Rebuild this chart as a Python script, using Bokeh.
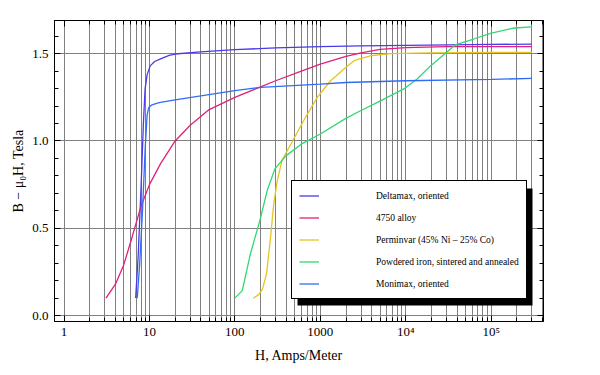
from bokeh.plotting import figure
from bokeh.models import (Range1d, FixedTicker, LogAxis, LinearAxis, Legend, LegendItem,
                          BoxAnnotation)
from bokeh.embed import file_html
from bokeh.resources import INLINE

# ---- data (H in A/m, B - mu0 H in Tesla) ----
deltamax_H = [6.9, 7.4, 8.0, 8.5, 8.9, 9.4, 10.2, 11.5, 13.5, 17, 20, 40, 100, 300, 1000, 3000, 10000, 1e5, 3e5]
deltamax_B = [0.10, 0.35, 0.75, 1.10, 1.30, 1.38, 1.43, 1.455, 1.47, 1.49, 1.498, 1.51, 1.523, 1.533, 1.54, 1.545, 1.548, 1.553, 1.555]

alloy4750_H = [3.1, 4.0, 5.0, 6.1, 7.9, 10, 13.5, 20, 30, 50, 100, 200, 300, 600, 1000, 2000, 3000, 5000, 10000, 3e4, 1e5, 3e5]
alloy4750_B = [0.10, 0.18, 0.29, 0.43, 0.62, 0.75, 0.87, 1.0, 1.09, 1.18, 1.25, 1.31, 1.345, 1.40, 1.44, 1.485, 1.505, 1.525, 1.535, 1.54, 1.54, 1.54]

perminvar_H = [165, 190, 210, 235, 262, 285, 313, 357, 450, 645, 920, 1320, 1970, 2480, 3850, 6600, 2e4, 1e5, 3e5]
perminvar_B = [0.10, 0.12, 0.15, 0.24, 0.45, 0.64, 0.77, 0.89, 0.98, 1.12, 1.25, 1.345, 1.42, 1.46, 1.488, 1.50, 1.505, 1.507, 1.508]

powdered_H = [100, 122, 152, 196, 239, 294, 398, 604, 1000, 1970, 2950, 5060, 9500, 13600, 19500, 28500, 37800, 62400, 98000, 186000, 300000]
powdered_B = [0.10, 0.143, 0.353, 0.544, 0.716, 0.84, 0.916, 0.983, 1.04, 1.128, 1.173, 1.23, 1.298, 1.355, 1.43, 1.498, 1.55, 1.584, 1.616, 1.647, 1.654]

monimax_H = [7.2, 7.7, 8.3, 8.9, 9.4, 9.8, 10.5, 13, 20, 40, 100, 200, 1000, 2000, 10000, 1e5, 3e5]
monimax_B = [0.10, 0.30, 0.60, 0.95, 1.15, 1.19, 1.205, 1.22, 1.235, 1.258, 1.288, 1.307, 1.326, 1.335, 1.345, 1.353, 1.358]

series_names = ["Deltamax, oriented", "4750 alloy", "Perminvar (45% Ni \u2013 25% Co)",
                "Powdered iron, sintered and annealed", "Monimax, oriented"]
series_colors = ["#4a3ae8", "#e0207a", "#e8c41c", "#2ed872", "#2f6cf5"]

x_major = [1, 10, 100, 1000, 10000, 100000]
x_labels = ["1", "10", "100", "1000", "10\u2074", "10\u2075"]
y_major = [0.0, 0.5, 1.0, 1.5]
y_labels = ["0.0", "0.5", "1.0", "1.5"]

x_minor = [m * d for d in [1, 10, 100, 1000, 10000, 100000] for m in range(1, 10)]
y_minor = [round(0.1 * i, 1) for i in range(0, 17)]

FONT = "Liberation Serif"

p = figure(frame_width=489, frame_height=301, x_axis_type="log",
           x_range=Range1d(0.774, 4.1e5), y_range=Range1d(-0.034, 1.69),
           output_backend="svg", toolbar_location=None,
           min_border_left=54, min_border_right=41, min_border_top=20, min_border_bottom=36)
p.background_fill_color = "white"
p.border_fill_color = "white"
p.outline_line_color = "black"
p.outline_line_width = 1

xt = FixedTicker(ticks=x_major, minor_ticks=x_minor)
yt = FixedTicker(ticks=y_major, minor_ticks=y_minor)

p.xaxis[0].ticker = xt
p.xaxis[0].major_label_overrides = {k: v for k, v in zip(x_major, x_labels)}
p.xaxis[0].axis_label = "H, Amps/Meter"
p.yaxis[0].ticker = yt
p.yaxis[0].major_label_overrides = {k: v for k, v in zip(y_major, y_labels)}
p.yaxis[0].axis_label = "B \u2212 \u03bc\u2080H, Tesla"


def style_axis(ax):
    ax.axis_line_color = "black"
    ax.major_tick_in = 6
    ax.major_tick_out = 0
    ax.minor_tick_in = 4
    ax.minor_tick_out = 0
    ax.major_tick_line_color = "black"
    ax.minor_tick_line_color = "black"
    ax.major_label_text_font = FONT
    ax.major_label_text_font_size = "13px"
    ax.major_label_text_color = "black"
    ax.axis_label_text_font = FONT
    ax.axis_label_text_font_size = "14px"
    ax.axis_label_text_font_style = "normal"
    ax.axis_label_text_color = "black"


style_axis(p.xaxis[0])
p.xaxis[0].major_label_standoff = 2
p.xaxis[0].axis_label_standoff = 6
style_axis(p.yaxis[0])
p.yaxis[0].major_label_standoff = 6
p.yaxis[0].axis_label_standoff = 3

top = LogAxis(ticker=xt)
style_axis(top)
top.major_label_text_font_size = "1px"
top.major_label_text_alpha = 0
top.major_label_standoff = 0
right = LinearAxis(ticker=yt)
style_axis(right)
right.major_label_text_font_size = "1px"
right.major_label_text_alpha = 0
right.major_label_standoff = 0
p.add_layout(top, "above")
p.add_layout(right, "right")

p.xgrid.ticker = xt
p.ygrid.ticker = yt
p.xgrid.grid_line_color = "#808080"
p.xgrid.minor_grid_line_color = "#808080"
p.ygrid.grid_line_color = "#808080"

data = [(deltamax_H, deltamax_B), (alloy4750_H, alloy4750_B), (perminvar_H, perminvar_B),
        (powdered_H, powdered_B), (monimax_H, monimax_B)]
items = []
for (hx, by), name, col in zip(data, series_names, series_colors):
    r = p.line(hx, by, line_color=col, line_width=1.3)
    items.append(LegendItem(label=name, renderers=[r]))

shadow = BoxAnnotation(left=243, right=478, bottom=16, top=133,
                       left_units="screen", right_units="screen",
                       bottom_units="screen", top_units="screen",
                       fill_color="black", fill_alpha=1.0, line_color=None)
p.add_layout(shadow)

legend = Legend(items=items, location=(237, 22), margin=0, padding=7,
                glyph_width=20, glyph_height=15, label_height=15, spacing=7,
                label_standoff=57, label_text_font=FONT, label_text_font_size="9.5px",
                label_text_color="black",
                border_line_color="black", border_line_width=1, border_line_alpha=1,
                background_fill_color="white", background_fill_alpha=1)
p.add_layout(legend, "center")

open("out.html", "w").write(file_html(p, INLINE))
